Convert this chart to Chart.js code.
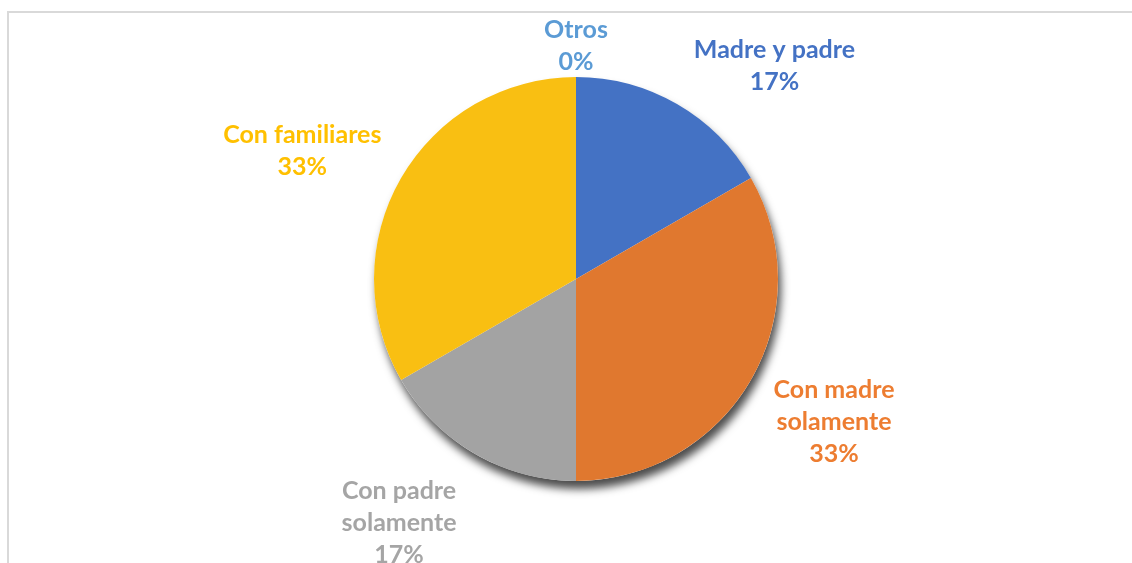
<!DOCTYPE html>
<html lang="es">
<head>
<meta charset="utf-8">
<title>Con quién vive</title>
<script src="https://cdn.jsdelivr.net/npm/chart.js@4/dist/chart.umd.min.js"></script>
<style>
  html, body { margin: 0; padding: 0; background: #fff; }
  #grafico { display: block; }
</style>
</head>
<body>
<canvas id="grafico" width="1132" height="563"></canvas>
<script>
// datos del gráfico
const categorias = ['Madre y padre', 'Con madre solamente', 'Con padre solamente', 'Con familiares', 'Otros'];
const valores = [1, 2, 1, 2, 0];
// texto de cada etiqueta, partido en renglones como en el original
const etiquetas = [['Madre y padre'], ['Con madre', 'solamente'], ['Con padre', 'solamente'], ['Con familiares'], ['Otros']];

// colores de Office
const colores = ['#4472C4', '#E0782F', '#A3A3A3', '#F9BF12', '#5B9BD5'];
const coloresTexto = ['#4472C4', '#ED7D31', '#A5A5A5', '#FFC000', '#5B9BD5'];

// ajuste de posición de las etiquetas (grados extra y distancia desde el borde)
const giroEtiqueta = [13, -1, 6, -5, 0];
const distEtiqueta = [89, 93, 99, 100, 31];

const total = valores.reduce((a, b) => a + b, 0);

// marco gris del área del gráfico
const marco = {
  id: 'marco',
  beforeDraw(chart) {
    const ctx = chart.ctx;
    ctx.save();
    ctx.strokeStyle = '#D9D9D9';
    ctx.lineWidth = 2;
    ctx.beginPath();
    ctx.moveTo(8, 564);
    ctx.lineTo(8, 12);
    ctx.lineTo(1134, 12);
    ctx.stroke();
    ctx.restore();
  }
};

// sombra debajo de la torta
const sombra = {
  id: 'sombra',
  beforeDatasetsDraw(chart) {
    const arc = chart.getDatasetMeta(0).data[0];
    if (!arc) return;
    const ctx = chart.ctx;
    ctx.save();
    ctx.shadowColor = 'rgba(0,0,0,0.7)';
    ctx.shadowBlur = 8;
    ctx.shadowOffsetX = 3;
    ctx.shadowOffsetY = 8;
    ctx.fillStyle = '#fff';
    ctx.beginPath();
    ctx.arc(arc.x, arc.y, arc.outerRadius, 0, Math.PI * 2);
    ctx.fill();
    ctx.restore();
  }
};

// etiquetas con nombre y porcentaje fuera de la torta
const etiquetasFuera = {
  id: 'etiquetasFuera',
  afterDatasetsDraw(chart) {
    const ctx = chart.ctx;
    const meta = chart.getDatasetMeta(0);
    ctx.save();
    ctx.font = 'bold 25px Lato, "Open Sans", sans-serif';
    ctx.textAlign = 'center';
    ctx.textBaseline = 'middle';
    meta.data.forEach((arc, i) => {
      const medio = (arc.startAngle + arc.endAngle) / 2 + giroEtiqueta[i] * Math.PI / 180;
      const r = arc.outerRadius + distEtiqueta[i];
      const cx = arc.x + Math.cos(medio) * r;
      const cy = arc.y + Math.sin(medio) * r;
      const pct = Math.round(valores[i] / total * 100) + '%';
      const lineas = etiquetas[i].concat([pct]);
      const alto = 32;
      const y0 = cy - (lineas.length - 1) * alto / 2;
      ctx.fillStyle = coloresTexto[i];
      lineas.forEach((t, k) => ctx.fillText(t, cx, y0 + k * alto));
    });
    ctx.restore();
  }
};

const ctx = document.getElementById('grafico').getContext('2d');
new Chart(ctx, {
  type: 'pie',
  data: {
    labels: categorias,
    datasets: [{
      data: valores,
      backgroundColor: colores,
      borderWidth: 0,
      hoverOffset: 0,
      offset: 0
    }]
  },
  options: {
    responsive: false,
    animation: false,
    layout: { padding: { top: 77, bottom: 82, left: 374, right: 354 } },
    plugins: {
      legend: { display: false },
      tooltip: { enabled: false }
    }
  },
  plugins: [marco, sombra, etiquetasFuera]
});
</script>
</body>
</html>
